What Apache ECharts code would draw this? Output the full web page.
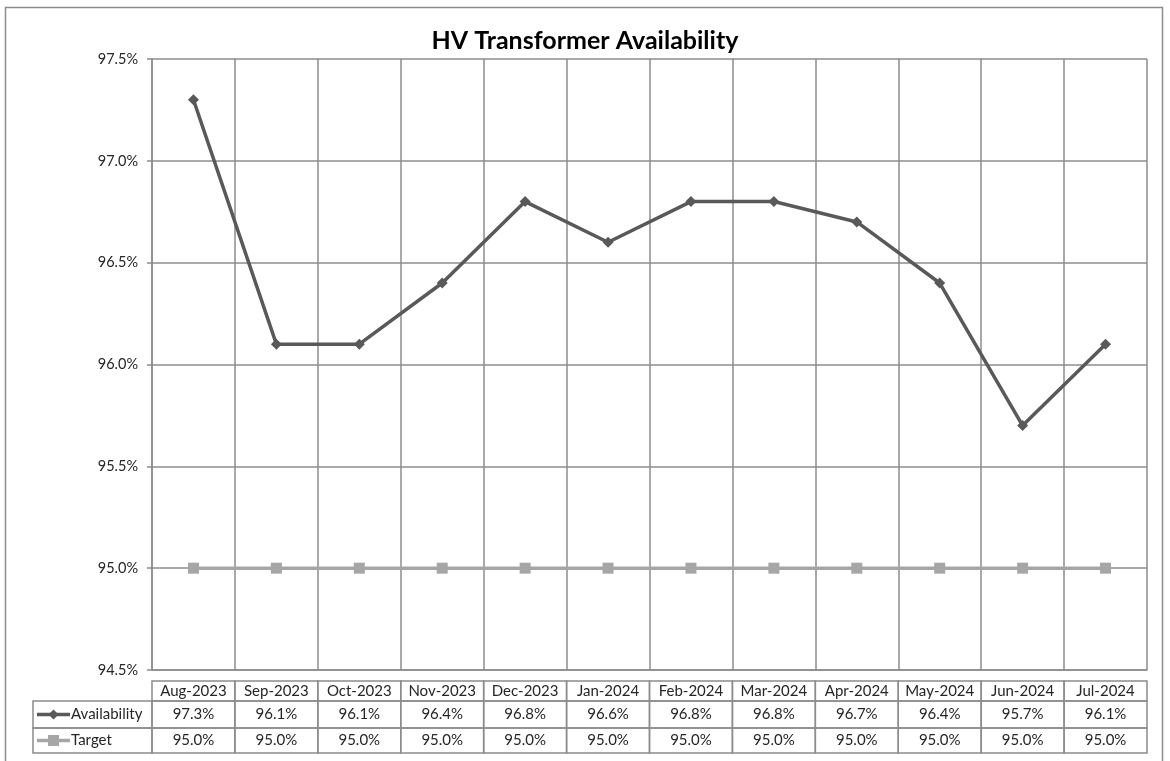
<!DOCTYPE html>
<html>
<head>
<meta charset="utf-8">
<script src="https://cdn.jsdelivr.net/npm/echarts@6/dist/echarts.min.js"></script>
<style>
  html, body { margin: 0; padding: 0; background: #fff; }
  #chart { width: 1170px; height: 761px; }
</style>
</head>
<body>
<div id="chart"></div>
<script>
// data
const months = ["Aug-2023", "Sep-2023", "Oct-2023", "Nov-2023", "Dec-2023", "Jan-2024",
  "Feb-2024", "Mar-2024", "Apr-2024", "May-2024", "Jun-2024", "Jul-2024"];
const availability = [97.3, 96.1, 96.1, 96.4, 96.8, 96.6, 96.8, 96.8, 96.7, 96.4, 95.7, 96.1];
const target = [95.0, 95.0, 95.0, 95.0, 95.0, 95.0, 95.0, 95.0, 95.0, 95.0, 95.0, 95.0];

const FONT = "Lato, 'Noto Sans', sans-serif";
const DARK = "#595959";
const LIGHT = "#a6a6a6";
const GRIDC = "#8c8c8c";

const gridLeft = 152, gridRight = 1147, gridTop = 59, gridBottom = 670;
const colW = (gridRight - gridLeft) / months.length;

const chart = echarts.init(document.getElementById("chart"));

function pct(v) { return v.toFixed(1) + "%"; }

// data table under the plot, built from the arrays
function buildTable() {
  const els = [];
  const rows = [
    { y: 681, h: 20, texts: months },
    { y: 701, h: 27, texts: availability.map(pct), name: "Availability", color: DARK, symbol: "diamond" },
    { y: 728, h: 25, texts: target.map(pct), name: "Target", color: LIGHT, symbol: "rect" }
  ];
  rows.forEach(function (r) {
    r.texts.forEach(function (t, i) {
      const x = gridLeft + i * colW;
      els.push({
        type: "rect", shape: { x: x, y: r.y, width: colW, height: r.h },
        style: { fill: "none", stroke: GRIDC, lineWidth: 1.5 }, silent: true
      });
      els.push({
        type: "text", x: x + colW / 2, y: r.y + r.h / 2,
        style: { text: t, fill: "#262626", font: "15px " + FONT, align: "center", verticalAlign: "middle" },
        silent: true
      });
    });
    if (r.name) {
      els.push({
        type: "rect", shape: { x: 33, y: r.y, width: gridLeft - 33, height: r.h },
        style: { fill: "none", stroke: GRIDC, lineWidth: 1.5 }, silent: true
      });
      const cy = r.y + r.h / 2;
      els.push({
        type: "line", shape: { x1: 37, y1: cy, x2: 70, y2: cy },
        style: { stroke: r.color, lineWidth: 3.5 }, silent: true
      });
      if (r.symbol === "diamond") {
        els.push({
          type: "polygon", shape: { points: [[53.5, cy - 5], [58.5, cy], [53.5, cy + 5], [48.5, cy]] },
          style: { fill: r.color }, silent: true
        });
      } else {
        els.push({
          type: "rect", shape: { x: 48, y: cy - 5.5, width: 11, height: 11 },
          style: { fill: r.color }, silent: true
        });
      }
      els.push({
        type: "text", x: 71, y: cy,
        style: { text: r.name, fill: "#262626", font: "15px " + FONT, align: "left", verticalAlign: "middle" },
        silent: true
      });
    }
  });
  // outer chart border
  els.push({
    type: "rect", shape: { x: 5.5, y: 7.5, width: 1157, height: 770 },
    style: { fill: "none", stroke: "#8c8c8c", lineWidth: 1.5 }, silent: true, z: -1
  });
  return els;
}

const option = {
  animation: false,
  backgroundColor: "#fff",
  title: {
    text: "HV Transformer Availability",
    left: "center",
    top: 23,
    textStyle: { fontFamily: FONT, fontSize: 25, fontWeight: "bold", color: "#000" }
  },
  grid: {
    left: gridLeft, right: 1170 - gridRight, top: gridTop, bottom: 761 - gridBottom,
    containLabel: false
  },
  xAxis: {
    type: "category",
    data: months,
    boundaryGap: true,
    axisLine: { show: true, lineStyle: { color: GRIDC, width: 1.5 } },
    axisTick: { show: false },
    axisLabel: { show: false },
    splitLine: { show: true, lineStyle: { color: GRIDC, width: 1.5 } }
  },
  yAxis: {
    type: "value",
    min: 94.5,
    max: 97.5,
    interval: 0.5,
    axisLine: { show: true, lineStyle: { color: GRIDC, width: 1.5 } },
    axisTick: { show: true, length: 5, lineStyle: { color: GRIDC, width: 1.5 } },
    axisLabel: {
      formatter: function (v) { return v.toFixed(1) + "%"; },
      color: "#262626", fontFamily: FONT, fontSize: 14.5, margin: 14
    },
    splitLine: { show: true, lineStyle: { color: GRIDC, width: 1.5 } }
  },
  series: [
    {
      name: "Target",
      type: "line",
      data: target,
      symbol: "rect",
      symbolSize: 11,
      lineStyle: { color: LIGHT, width: 3.5 },
      itemStyle: { color: LIGHT },
      z: 3
    },
    {
      name: "Availability",
      type: "line",
      data: availability,
      symbol: "diamond",
      symbolSize: 11,
      lineStyle: { color: DARK, width: 3.5 },
      itemStyle: { color: DARK },
      z: 4
    }
  ],
  graphic: buildTable()
};

chart.setOption(option);
</script>
</body>
</html>
